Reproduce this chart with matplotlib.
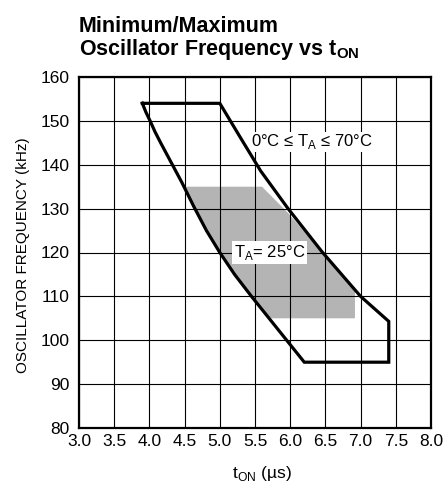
import numpy as np
import matplotlib
matplotlib.use('Agg')
import matplotlib.pyplot as plt

# outline for 0C <= TA <= 70C (t_on in us, frequency in kHz)
left_t = [3.9, 3.95, 4.01, 4.08, 4.16, 4.26, 4.36, 4.46, 4.63, 4.81, 5.0, 5.21, 5.45, 5.7, 5.95, 6.2]
left_f = [154, 152, 150, 147.5, 145, 142, 139, 136, 130.5, 125, 120, 115, 110, 105, 100, 95]
right_t = [5.0, 5.3, 5.58, 5.97, 6.45, 7.0, 7.4]
right_f = [154, 146, 138.6, 130, 120.2, 110, 104.3]
bottom_t = [7.4]
bottom_f = [95]

# TA = 25C band
band_top = 135
band_bottom = 105
band_edge_t = [4.49, 5.6, 5.97, 6.45, 6.92, 6.92]
band_edge_f = [135, 135, 129, 120.2, 111.5, 105]

xticks = [3.0, 3.5, 4.0, 4.5, 5.0, 5.5, 6.0, 6.5, 7.0, 7.5, 8.0]
yticks = [80, 90, 100, 110, 120, 130, 140, 150, 160]

plt.rcParams['font.family'] = ['Liberation Sans', 'DejaVu Sans']
plt.rcParams['mathtext.fontset'] = 'custom'
plt.rcParams['mathtext.rm'] = 'Liberation Sans'
plt.rcParams['mathtext.bf'] = 'Liberation Sans:bold'

W, H = 446, 493
fig = plt.figure(figsize=(W / 100, H / 100), dpi=100)
ax = fig.add_axes([79 / W, 65 / H, 352 / W, 351 / H])

# gray band: its own top/right edges, then back up along the outline's left side
lt = np.array(left_t)
lf = np.array(left_f)
inside = (lf < band_top) & (lf >= band_bottom)
gx = band_edge_t + list(lt[inside][::-1])
gy = band_edge_f + list(lf[inside][::-1])
ax.fill(gx, gy, color='#b4b4b4', lw=0, zorder=1)

# outer outline
ox = left_t + bottom_t + right_t[::-1] + [left_t[0]]
oy = left_f + bottom_f + right_f[::-1] + [left_f[0]]
ax.plot(ox, oy, color='black', lw=2.3, solid_joinstyle='miter', zorder=3)

ax.set_xlim(3, 8)
ax.set_ylim(80, 160)
ax.set_xticks(xticks)
ax.set_yticks(yticks)
ax.set_xticklabels(['%.1f' % v for v in xticks])
ax.tick_params(length=0, labelsize=12.5)
ax.tick_params(axis='x', pad=4)
ax.tick_params(axis='y', pad=7)
ax.grid(True, color='black', lw=0.8)
ax.set_axisbelow('line')
for s in ax.spines.values():
    s.set_linewidth(1.6)

ax.text(5.45, 145.2, r'0°C ≤ T$_\mathrm{A}$ ≤ 70°C', fontsize=12, va='center',
        ha='left', zorder=4,
        bbox=dict(facecolor='white', edgecolor='none', pad=0.5))
ax.text(5.2, 120.1, r'T$_\mathrm{A}$= 25°C', fontsize=12, va='center',
        ha='left', zorder=4,
        bbox=dict(facecolor='white', edgecolor='none', pad=1.5))

fig.text(23 / W, 1 - 255 / H, 'OSCILLATOR FREQUENCY (kHz)', fontsize=11,
         rotation=90, ha='center', va='center')
fig.text(262 / W, 1 - 478 / H, r't$_\mathrm{ON}$ (µs)', fontsize=12.5, ha='center',
         va='baseline')

fig.text(79 / W, 1 - 32 / H, 'Minimum/Maximum', fontsize=15.5, fontweight='bold',
         ha='left', va='baseline')
fig.text(79 / W, 1 - 55 / H, r'Oscillator Frequency vs t$_\mathbf{ON}$',
         fontsize=15.5, fontweight='bold', ha='left', va='baseline')

fig.savefig('out.png', dpi=100)
